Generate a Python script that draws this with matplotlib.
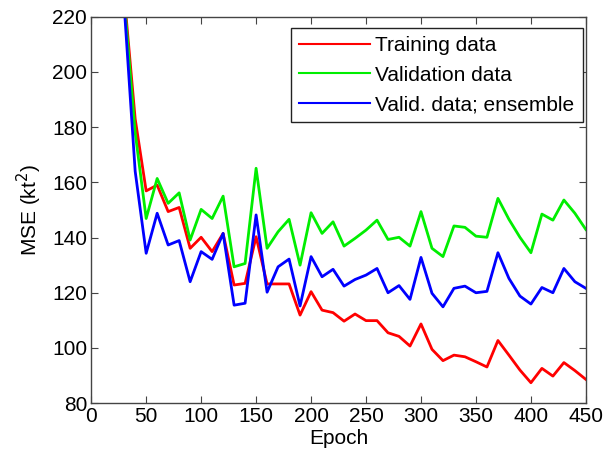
import matplotlib
matplotlib.use("Agg")
import matplotlib.pyplot as plt

plt.rcParams['font.family'] = ['Liberation Sans', 'DejaVu Sans']

epochs = [30, 40, 50, 60, 70, 80, 90, 100, 110, 120, 130, 140, 150, 160, 170, 180,
          190, 200, 210, 220, 230, 240, 250, 260, 270, 280, 290, 300, 310, 320,
          330, 340, 350, 360, 370, 380, 390, 400, 410, 420, 430, 440, 450]

train = [228, 183, 156.9, 159.0, 149.4, 150.9, 136.1, 140.1, 134.9, 141.5, 122.8, 123.4,
         140.3, 123.2, 123.2, 123.2, 111.9, 120.4, 113.7, 112.8, 109.7, 112.3, 109.9,
         109.9, 105.5, 104.2, 100.7, 108.7, 99.5, 95.4, 97.4, 96.8, 95.0, 93.1, 102.7,
         97.4, 92.0, 87.4, 92.6, 89.8, 94.7, 91.8, 88.6]

valid = [226, 178, 146.9, 161.4, 152.4, 156.2, 139.1, 150.2, 146.9, 155.0, 129.4, 130.6,
         165.1, 136.1, 142.1, 146.6, 130.0, 149.0, 141.5, 145.7, 136.9, 139.7, 142.7,
         146.3, 139.3, 140.1, 136.9, 149.4, 136.1, 133.1, 144.2, 143.7, 140.5, 140.1,
         154.2, 146.6, 140.1, 134.5, 148.5, 146.3, 153.6, 148.8, 142.9]

ensemble = [224, 164, 134.3, 148.8, 137.3, 138.9, 124.0, 134.9, 132.1, 141.5, 115.5, 116.2,
            148.2, 120.2, 129.4, 132.2, 115.2, 133.1, 125.8, 128.5, 122.4, 124.8, 126.4,
            128.8, 120.0, 122.6, 117.6, 132.8, 119.8, 114.9, 121.6, 122.4, 120.0, 120.5,
            134.5, 125.2, 118.8, 115.9, 121.9, 120.0, 128.8, 124.0, 121.6]

fig = plt.figure(figsize=(6.04, 4.65), dpi=100)
ax = fig.add_axes([0.151, 0.133, 0.819, 0.831])

ax.plot(epochs, train, color='#ff0000', lw=2, label='Training data')
ax.plot(epochs, valid, color='#00ee00', lw=2, label='Validation data')
ax.plot(epochs, ensemble, color='#0000ff', lw=2, label='Valid. data; ensemble')

ax.set_xlim(0, 450)
ax.set_ylim(80, 220)
ax.set_xticks(range(0, 451, 50))
ax.set_yticks(range(80, 221, 20))
ax.tick_params(direction='in', top=True, right=True, labelsize=15, length=5,
               color='#444444', pad=3)
for s in ax.spines.values():
    s.set_color('#444444')
    s.set_linewidth(1)

ax.set_xlabel('Epoch', fontsize=15, labelpad=2)
ax.set_ylabel('MSE (kt$^2$)', fontsize=15, labelpad=6)

leg = ax.legend(loc='upper right', fontsize=15, handlelength=3.4, handletextpad=0.25,
                borderpad=0.4, labelspacing=0.5, fancybox=False, framealpha=1,
                edgecolor='#222222', borderaxespad=0, bbox_to_anchor=(0.994, 0.971))
for line in leg.get_lines():
    line.set_linewidth(1.5)

fig.savefig('out.png', dpi=100)
